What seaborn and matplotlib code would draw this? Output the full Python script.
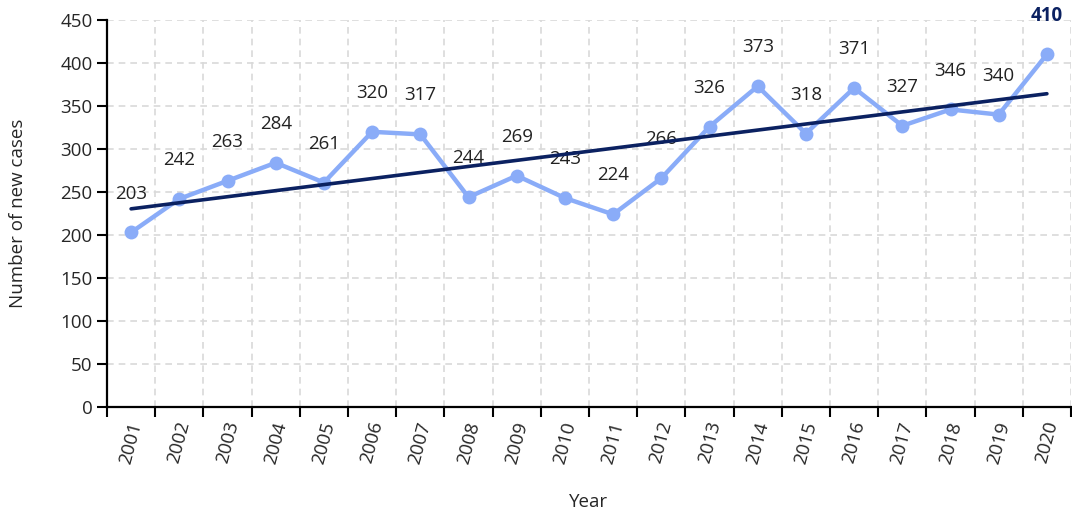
import numpy as np
import pandas as pd
import matplotlib
matplotlib.use("Agg")
import matplotlib.pyplot as plt
from matplotlib.ticker import FixedLocator
import seaborn as sns

years = [str(y) for y in range(2001, 2021)]
cases = [203, 242, 263, 284, 261, 320, 317, 244, 269, 243,
         224, 266, 326, 373, 318, 371, 327, 346, 340, 410]

sns.set_theme(style="white")
plt.rcParams["font.family"] = ["Open Sans", "DejaVu Sans"]

df = pd.DataFrame({"pos": np.arange(len(years)), "year": years, "cases": cases})

fig = plt.figure(figsize=(10.72, 5.13), dpi=100)
ax = fig.add_axes([107 / 1072, 1 - 407 / 513, 964 / 1072, 387 / 513])

line_col = "#8aacf8"
trend_col = "#0b2161"
fs = 13.5

sns.lineplot(data=df, x="pos", y="cases", color=line_col, linewidth=3.2,
             marker="o", markersize=10, markeredgewidth=0, ax=ax, zorder=3)
sns.regplot(data=df, x="pos", y="cases", scatter=False, ci=None,
            line_kws={"color": trend_col, "linewidth": 2.6, "zorder": 4}, ax=ax)

# value labels above each point
for i, v in enumerate(cases):
    last = i == len(cases) - 1
    ax.annotate(str(v), (i, v), xytext=(0, 28), textcoords="offset points",
                ha="center", va="center", fontsize=fs,
                color=trend_col if last else "#222222",
                fontweight="bold" if last else "normal")

ax.set_xlim(-0.5, len(years) - 0.5)
ax.set_ylim(0, 450)
ax.set_yticks(range(0, 451, 50))
ax.set_xticks(df["pos"])
ax.set_xticklabels(years, rotation=75, fontsize=fs)
ax.xaxis.set_minor_locator(FixedLocator(np.arange(-0.5, len(years), 1.0)))
ax.tick_params(axis="x", which="major", length=0, pad=9)
ax.tick_params(axis="x", which="minor", length=7, width=1.5, color="black",
               direction="out", bottom=True)
ax.tick_params(axis="y", length=7, width=1.5, color="black", direction="out",
               left=True, labelsize=fs)

ax.grid(axis="y", which="major", color="#d9d9d9", linestyle=(0, (4, 3)), linewidth=1.2)
ax.grid(axis="x", which="minor", color="#d9d9d9", linestyle=(0, (4, 3)), linewidth=1.2)
ax.grid(axis="x", which="major", visible=False)
ax.set_axisbelow(True)

for s in ["top", "right"]:
    ax.spines[s].set_visible(False)
for s in ["left", "bottom"]:
    ax.spines[s].set_color("black")
    ax.spines[s].set_linewidth(1.6)

ax.set_xlabel("Year", fontsize=fs, labelpad=20)
ax.set_ylabel("Number of new cases", fontsize=fs, labelpad=12)
ax.yaxis.set_label_coords(-80 / 964, 0.5)

fig.savefig("out.png", dpi=100)
